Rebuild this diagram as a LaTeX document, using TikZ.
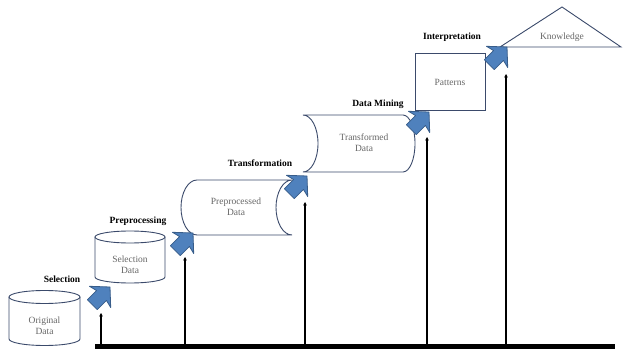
\documentclass[tikz,border=0pt]{standalone}
\usepackage{fontspec}
\setmainfont{Liberation Serif}
\usetikzlibrary{arrows.meta}
\definecolor{outl}{HTML}{3B4A6B}
\definecolor{afill}{HTML}{4F81BD}
\definecolor{aline}{HTML}{385D8A}
\definecolor{txt}{HTML}{666666}
\begin{document}
\begin{tikzpicture}[x=1pt,y=-1pt,
  shapeline/.style={draw=outl,line width=0.9pt,fill=white},
  inner/.style={text=txt,font=\fontsize{9.5}{11}\selectfont,align=center,inner sep=0pt},
  steplabel/.style={font=\bfseries\fontsize{9.5}{11}\selectfont,inner sep=0pt},
  vline/.style={line width=1.6pt,-{Stealth[length=3.5pt,width=3.5pt]}},
  bluearrow/.pic={\filldraw[fill=afill,draw=aline,line width=0.8pt,line join=round]
     (0,0) -- (-14,-15) -- (-12,-7) -- (-25,-7) -- (-25,7) -- (-12,7) -- (-14,15) -- cycle;}
]
\useasboundingbox (0,0) rectangle (623,352);

% base line
\coordinate (bl) at (95,346);
\coordinate (br) at (615,346);
\draw[line width=5pt] (bl) -- (br);

% Original Data cylinder
\draw[shapeline] (9,297) -- (9,339) arc[start angle=180,end angle=0,x radius=35.5,y radius=6.5] -- (80,297);
\draw[shapeline] (44.5,297) ellipse[x radius=35.5,y radius=6.5];
\node[inner] (orig) at (44.5,326) {Original\\Data};

% Selection Data cylinder
\draw[shapeline] (95,237) -- (95,277) arc[start angle=180,end angle=0,x radius=35,y radius=6] -- (165,237);
\draw[shapeline] (130,237) ellipse[x radius=35,y radius=6];
\node[inner] (seld) at (130,265) {Selection\\Data};

% Preprocessed Data (stored data)
\draw[shapeline] (197,180) -- (292,180) arc[start angle=270,end angle=90,x radius=16,y radius=27.5]
   -- (197,235) arc[start angle=90,end angle=270,x radius=16,y radius=27.5] -- cycle;
\node[inner] (prep) at (236,207) {Preprocessed\\Data};

% Transformed Data (stored data, mirrored)
\draw[shapeline] (303,115) -- (403,115) arc[start angle=270,end angle=450,x radius=12,y radius=28.5]
   -- (303,172) arc[start angle=90,end angle=-90,x radius=15,y radius=28.5] -- cycle;
\node[inner] (trans) at (364,143) {Transformed\\Data};

% Patterns
\draw[shapeline] (415,53) rectangle (485,110);
\node[inner] (pat) at (450,82) {Patterns};

% Knowledge triangle
\draw[shapeline,line join=miter] (562,7) -- (621,47) -- (500,47) -- cycle;
\node[inner] (know) at (562,37) {Knowledge};

% step labels
\node[steplabel] (l1) at (62,279) {Selection};
\node[steplabel] (l2) at (138,221) {Preprocessing};
\node[steplabel] (l3) at (260,163) {Transformation};
\node[steplabel] (l4) at (378,104) {Data Mining};
\node[steplabel] (l5) at (452,37) {Interpretation};

% vertical lines
\coordinate (b1) at (101,346); \coordinate (t1) at (101,313);
\coordinate (b2) at (185,346); \coordinate (t2) at (185,257);
\coordinate (b3) at (305,346); \coordinate (t3) at (305,202);
\coordinate (b4) at (427,346); \coordinate (t4) at (427,137);
\coordinate (b5) at (506,346); \coordinate (t5) at (506,74);
\foreach \i in {1,...,5} {\draw[vline] (b\i) -- (t\i);}

% blue block arrows
\pic[rotate=45] at (110,287) {bluearrow};
\pic[rotate=45] at (193,233) {bluearrow};
\pic[rotate=45] at (307,176) {bluearrow};
\pic[rotate=45] at (429,112) {bluearrow};
\pic[rotate=45] at (507,47) {bluearrow};
\end{tikzpicture}
\end{document}
